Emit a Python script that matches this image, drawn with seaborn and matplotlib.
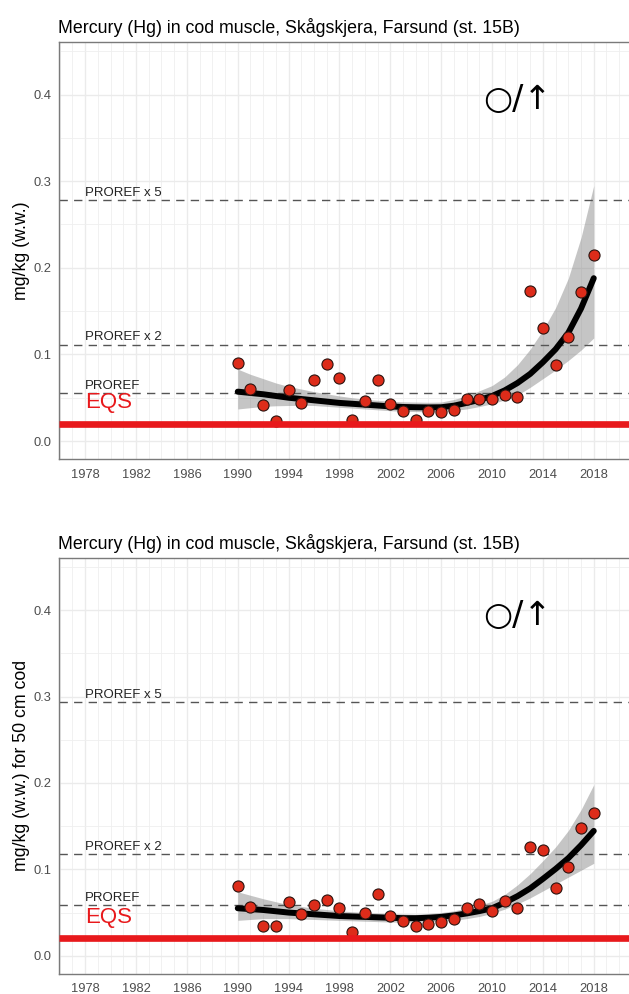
import numpy as np
import pandas as pd
import matplotlib
matplotlib.use("Agg")
import matplotlib.pyplot as plt
import seaborn as sns
from matplotlib.ticker import FixedLocator

# ---------------- data ----------------
years = list(range(1990, 2019))
hg_ww = [0.090, 0.060, 0.042, 0.023, 0.059, 0.044, 0.071, 0.089, 0.073, 0.024,
         0.046, 0.071, 0.043, 0.035, 0.024, 0.035, 0.033, 0.036, 0.048, 0.049,
         0.049, 0.053, 0.051, 0.173, 0.130, 0.088, 0.120, 0.172, 0.215]
hg_50cm = [0.081, 0.056, 0.034, 0.034, 0.062, 0.048, 0.059, 0.065, 0.055, 0.028,
           0.050, 0.071, 0.046, 0.040, 0.034, 0.037, 0.039, 0.043, 0.055, 0.060,
           0.052, 0.063, 0.055, 0.126, 0.122, 0.079, 0.103, 0.148, 0.165]

# fitted trend and its confidence band (one value per year)
trend_ww = [0.057, 0.0555, 0.054, 0.052, 0.050, 0.0485, 0.047, 0.0455, 0.044, 0.043,
            0.042, 0.041, 0.040, 0.0393, 0.039, 0.0388, 0.039, 0.0408, 0.044, 0.0475,
            0.052, 0.0585, 0.067, 0.0775, 0.091, 0.106, 0.125, 0.153, 0.188]
trend_ww_lo = [0.037, 0.0385, 0.040, 0.0407, 0.041, 0.0412, 0.041, 0.040, 0.039, 0.038,
               0.037, 0.036, 0.035, 0.0343, 0.034, 0.0337, 0.034, 0.0353, 0.037, 0.0398,
               0.043, 0.0475, 0.053, 0.062, 0.072, 0.082, 0.093, 0.105, 0.119]
trend_ww_hi = [0.083, 0.077, 0.072, 0.067, 0.063, 0.060, 0.057, 0.0545, 0.052, 0.050,
               0.048, 0.047, 0.046, 0.0453, 0.045, 0.0447, 0.045, 0.048, 0.052, 0.058,
               0.064, 0.074, 0.088, 0.106, 0.128, 0.154, 0.188, 0.235, 0.295]
trend_50 = [0.055, 0.054, 0.053, 0.0515, 0.050, 0.049, 0.048, 0.047, 0.046, 0.0455,
            0.045, 0.0445, 0.044, 0.0435, 0.0435, 0.044, 0.045, 0.0467, 0.049, 0.0517,
            0.055, 0.0615, 0.069, 0.078, 0.089, 0.1005, 0.113, 0.128, 0.1445]
trend_50_lo = [0.041, 0.042, 0.043, 0.043, 0.043, 0.0425, 0.042, 0.0415, 0.041, 0.0405,
               0.040, 0.0395, 0.039, 0.039, 0.039, 0.0393, 0.040, 0.041, 0.043, 0.0455,
               0.049, 0.054, 0.060, 0.067, 0.075, 0.083, 0.091, 0.099, 0.107]
trend_50_hi = [0.074, 0.070, 0.066, 0.0625, 0.059, 0.057, 0.055, 0.0535, 0.052, 0.051,
               0.050, 0.0495, 0.049, 0.0485, 0.048, 0.049, 0.050, 0.052, 0.055, 0.0585,
               0.063, 0.071, 0.082, 0.095, 0.110, 0.126, 0.145, 0.169, 0.198]

proref_ww = 0.0557
proref_50 = 0.0588
eqs_value = 0.020
proref_factors = [1, 2, 5]
proref_labels = ["PROREF", "PROREF x 2", "PROREF x 5"]
x_tick_years = [1978, 1982, 1986, 1990, 1994, 1998, 2002, 2006, 2010, 2014, 2018]
y_ticks = [0.0, 0.1, 0.2, 0.3, 0.4]
title = "Mercury (Hg) in cod muscle, Skågskjera, Farsund (st. 15B)"
ylabels = ["mg/kg (w.w.)", "mg/kg (w.w.) for 50 cm cod"]
trend_symbol = "○/↑"

# ---------------- style ----------------
sns.set_style("white")
plt.rcParams["font.family"] = ["Liberation Sans", "DejaVu Sans"]

W, H = 629, 994
fig = plt.figure(figsize=(W / 100, H / 100), dpi=100)

XMIN, XMAX = 1975.9, 2023.0
PX_PER_YEAR = 12.714
ax_left_px = 58.5
ax_width_px = (XMAX - XMIN) * PX_PER_YEAR
YMIN, YMAX = -0.0211, 0.4607

panels = [
    dict(top=42.0, bottom=459.3, values=hg_ww, proref=proref_ww, ylabel=ylabels[0],
         fit=trend_ww, lo=trend_ww_lo, hi=trend_ww_hi),
    dict(top=557.7, bottom=974.0, values=hg_50cm, proref=proref_50, ylabel=ylabels[1],
         fit=trend_50, lo=trend_50_lo, hi=trend_50_hi),
]

for p in panels:
    ax = fig.add_axes([ax_left_px / W, 1 - p["bottom"] / H,
                       ax_width_px / W, (p["bottom"] - p["top"]) / H])
    df = pd.DataFrame({"year": years, "value": p["values"]})
    tr = pd.DataFrame({"year": years, "fit": p["fit"], "lo": p["lo"], "hi": p["hi"]})

    # grid
    ax.set_axisbelow(True)
    ax.xaxis.set_major_locator(FixedLocator(x_tick_years))
    ax.xaxis.set_minor_locator(FixedLocator(list(range(1976, 2024))))
    ax.yaxis.set_major_locator(FixedLocator(y_ticks))
    ax.yaxis.set_minor_locator(FixedLocator([0.05, 0.15, 0.25, 0.35, 0.45]))
    ax.grid(which="major", color="#EBEBEB", lw=1.0)
    ax.grid(which="minor", color="#EFEFEF", lw=0.6)

    # confidence band
    ax.fill_between(tr["year"], tr["lo"], tr["hi"], color="#7F7F7F", alpha=0.45,
                    lw=0, zorder=2)

    # PROREF lines
    for f, lab in zip(proref_factors, proref_labels):
        yv = p["proref"] * f
        ax.axhline(yv, color="#555555", lw=1.0, dashes=(6, 4.5), zorder=2.5)
        ax.annotate(lab, (1978, yv), xytext=(0, 3), textcoords="offset points",
                    ha="left", va="baseline", fontsize=9.5, color="#222222", zorder=6)

    sns.lineplot(data=tr, x="year", y="fit", ax=ax, color="black", lw=4.3, zorder=3)
    sns.scatterplot(data=df, x="year", y="value", ax=ax, s=64, color="#DD2C1A",
                    edgecolor="#2A1410", linewidth=0.8, zorder=4)

    # EQS
    ax.axhline(eqs_value, color="#E8191C", lw=4.8, zorder=5, solid_capstyle="butt")
    ax.text(1978, eqs_value + 0.0183, "EQS", color="#E8191C", fontsize=16,
            ha="left", va="baseline", zorder=6)

    # trend symbol
    ax.text(2012.0, 0.394, trend_symbol, fontsize=24, ha="center", va="center",
            family=["DejaVu Sans"], color="black", zorder=6)

    ax.set_xlim(XMIN, XMAX)
    ax.set_ylim(YMIN, YMAX)
    ax.set_xticklabels([str(y) for y in x_tick_years])
    ax.set_yticklabels([f"{v:.1f}" for v in y_ticks])
    ax.set_xlabel("")
    ax.set_ylabel(p["ylabel"], fontsize=12.8, color="black", labelpad=3)
    ax.tick_params(which="major", direction="out", length=3.3, width=0.8,
                   color="#333333", labelcolor="#4D4D4D", labelsize=9.3)
    ax.tick_params(axis="x", which="major", pad=3.5)
    ax.tick_params(axis="y", which="major", pad=1.5)
    ax.tick_params(which="minor", length=0)
    for sp in ax.spines.values():
        sp.set_color("#7A7A7A")
        sp.set_linewidth(1.0)
    ax.set_title(title, loc="left", fontsize=12.8, color="black", pad=6.5)

fig.savefig("out.png", dpi=100)
